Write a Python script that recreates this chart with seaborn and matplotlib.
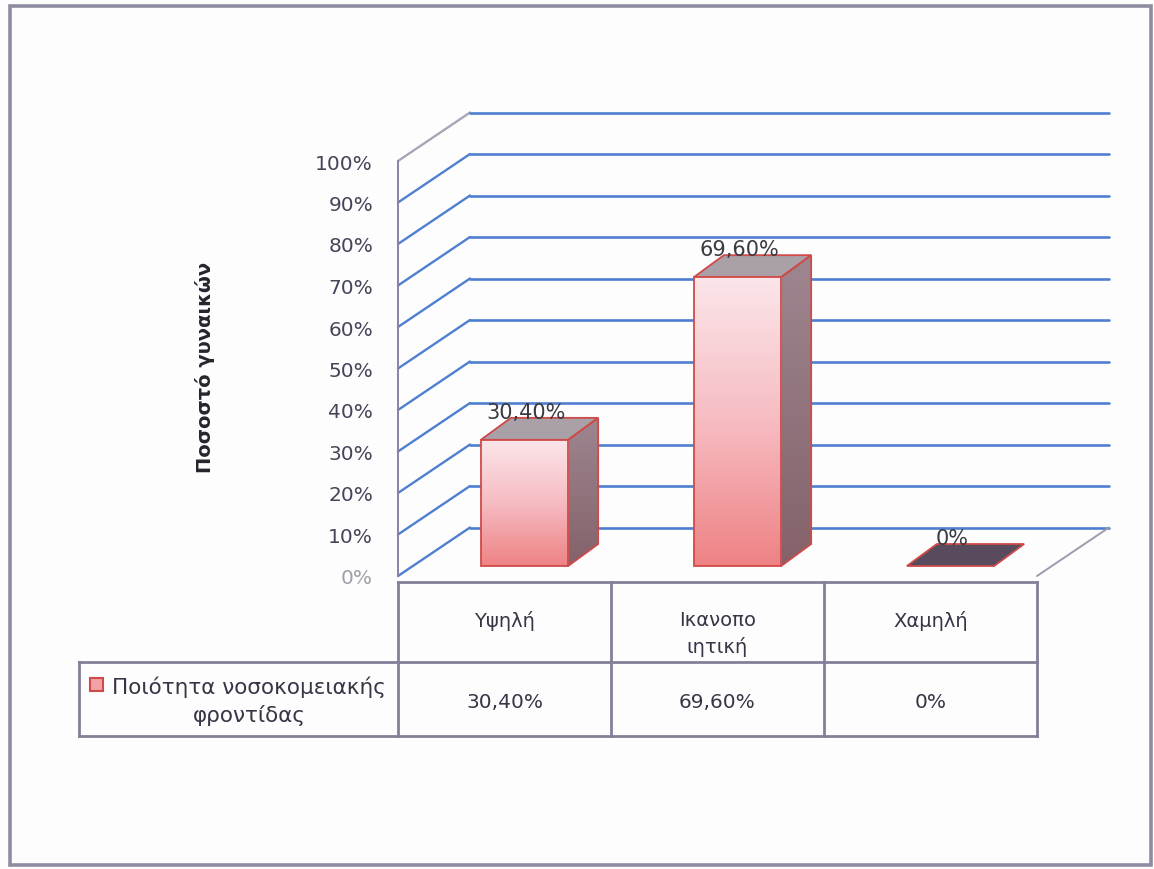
import numpy as np
import matplotlib
matplotlib.use("Agg")
import matplotlib.pyplot as plt
import matplotlib.transforms as mtransforms
from matplotlib.patches import Polygon, Rectangle
from matplotlib.colors import LinearSegmentedColormap
import seaborn as sns

# ---- data -------------------------------------------------------------
categories = ["Υψηλή", "Ικανοπο\nιητική", "Χαμηλή"]
values = [30.4, 69.6, 0.0]
series_name = "Ποιότητα νοσοκομειακής\nφροντίδας"
y_label = "Ποσοστό γυναικών"
y_ticks = list(range(0, 101, 10))


def pct_label(v):
    if v == 0:
        return "0%"
    return f"{v:.2f}".replace(".", ",") + "%"


# ---- figure / axes ------------------------------------------------------
W, H, DPI = 1154, 870, 100
sns.set_theme(style="white")
plt.rcParams["font.family"] = ["DejaVu Sans"]

fig = plt.figure(figsize=(W / DPI, H / DPI), dpi=DPI, facecolor="#fdfdfd")

# front plane of the plot box, in pixels (top-left origin)
L, R, B, T = 398, 1037, 577, 162
ax = fig.add_axes([L / W, (H - B) / H, (R - L) / W, (B - T) / H])
ax.set_facecolor("none")

sns.barplot(x=categories, y=values, width=0.41, color="#f4a0a4",
            errorbar=None, ax=ax)
bars = list(ax.patches)

ax.set_xlim(-0.5, 2.5)
ax.set_ylim(0, 100)
ax.set_autoscale_on(False)

px_cat = (R - L) / 3.0
px_pct = (B - T) / 100.0
WALL_DX, WALL_DY = 72 / px_cat, 48.5 / px_pct
BAR_DX, BAR_DY = 30 / px_cat, 22 / px_pct

bar_shift = mtransforms.ScaledTranslation(20 / DPI, 10 / DPI, fig.dpi_scale_trans)
bar_trans = ax.transData + bar_shift

# ---- walls and gridlines -------------------------------------------------
grid_c = "#4f7fd0"
x0, x1 = -0.5, 2.5
for t in y_ticks:
    diag_c = "#a6a6b6" if t == 100 else grid_c
    ax.plot([x0, x0 + WALL_DX], [t, t + WALL_DY], color=diag_c, lw=1.7,
            clip_on=False, zorder=1)
    ax.plot([x0 + WALL_DX, x1 + WALL_DX], [t + WALL_DY] * 2, color=grid_c,
            lw=1.9, clip_on=False, zorder=1)
ax.plot([x0, x0], [0, 100], color="#8484a8", lw=1.4, clip_on=False, zorder=1)
ax.plot([x1, x1 + WALL_DX], [0, WALL_DY], color="#9c9cae", lw=1.4,
        clip_on=False, zorder=1)

# ---- 3-D bars ---------------------------------------------------------------
edge_c = "#cf4a48"
front_cmap = LinearSegmentedColormap.from_list("front", ["#ee8284", "#f6bcc2", "#fbe6ea"])
side_cmap = LinearSegmentedColormap.from_list("side", ["#84626a", "#9e8690"])
grad = np.linspace(0, 1, 256).reshape(-1, 1)

for bar, v in zip(bars, values):
    bx, bw, h = bar.get_x(), bar.get_width(), bar.get_height()
    xr = bx + bw
    top_c = "#a9a0a8" if h > 0 else "#574b5d"
    top = Polygon([(bx, h), (xr, h), (xr + BAR_DX, h + BAR_DY), (bx + BAR_DX, h + BAR_DY)],
                  closed=True, transform=bar_trans, facecolor=top_c,
                  edgecolor=edge_c, lw=1.3, zorder=3, clip_on=False)
    ax.add_patch(top)
    bar.set_transform(bar_trans)
    if h > 0:
        side = Polygon([(xr, 0), (xr + BAR_DX, BAR_DY), (xr + BAR_DX, h + BAR_DY), (xr, h)],
                       closed=True, transform=bar_trans, facecolor="none",
                       edgecolor=edge_c, lw=1.3, zorder=3.2, clip_on=False)
        ax.add_patch(side)
        im_s = ax.imshow(grad, cmap=side_cmap, origin="lower", aspect="auto",
                         extent=(xr, xr + BAR_DX, 0, h + BAR_DY),
                         transform=bar_trans, zorder=2.8)
        im_s.set_clip_path(side)
        im_f = ax.imshow(grad, cmap=front_cmap, origin="lower", aspect="auto",
                         extent=(bx, xr, 0, h), transform=bar_trans, zorder=3.4)
        im_f.set_clip_path(bar)
        bar.set_facecolor("none")
        bar.set_edgecolor(edge_c)
        bar.set_linewidth(1.3)
        bar.set_zorder(3.6)
    else:
        bar.set_visible(False)

    ax.annotate(pct_label(v), (bx + bw / 2, h), xytext=(22, 38),
                textcoords="offset pixels", ha="center", va="center",
                fontsize=15, color="#3a3a44", zorder=5, annotation_clip=False)

ax.set_xlim(-0.5, 2.5)
ax.set_ylim(0, 100)

# ---- axis ticks and title ------------------------------------------------
ax.set_yticks(y_ticks)
ax.set_yticklabels([f"{t}%" for t in y_ticks])
ax.tick_params(axis="y", length=0, pad=18, labelsize=14.5, labelcolor="#45455a")
ax.tick_params(axis="x", length=0, labelbottom=False)
ax.set_xlabel("")
ax.set_ylabel("")
ax.get_yticklabels()[0].set_color("#a0a0aa")
sns.despine(ax=ax, left=True, bottom=True)

fig.text(205 / W, 1 - 367 / H, y_label, rotation=90, ha="center", va="center",
         fontsize=14, fontweight="bold", color="#25252e")

# ---- data table ------------------------------------------------------------
tbl = mtransforms.blended_transform_factory(ax.transData, fig.transFigure)


def fy(p):
    return 1 - p / H


def px_to_x(p):
    return -0.5 + (p - L) / px_cat


line_c = "#837f98"
row_left = -2.0
y_top, y_mid, y_bot = 583, 663, 737
lkw = dict(color=line_c, lw=2.0, transform=tbl, clip_on=False, zorder=4,
           solid_capstyle="projecting")
ax.plot([x0, x1], [fy(y_top)] * 2, **lkw)
ax.plot([row_left, x1], [fy(y_mid)] * 2, **lkw)
ax.plot([row_left, x1], [fy(y_bot)] * 2, **lkw)
ax.plot([row_left, row_left], [fy(y_mid), fy(y_bot)], **lkw)
for xv in np.arange(len(categories) + 1) - 0.5:
    ax.plot([xv, xv], [fy(y_top), fy(y_bot)], **lkw)

txt_c = "#363646"
for i, (cat, v) in enumerate(zip(categories, values)):
    ax.text(i, fy(611), cat, transform=tbl, ha="center", va="top",
            fontsize=14, color=txt_c, linespacing=1.45)
    ax.text(i, fy(703), pct_label(v), transform=tbl, ha="center", va="center",
            fontsize=14.5, color=txt_c)

ax.add_patch(Rectangle((px_to_x(90), fy(692)), 13 / px_cat, 13 / H,
                       transform=tbl, facecolor="#f2a2a6", edgecolor=edge_c,
                       lw=1.5, clip_on=False, zorder=5))
ax.text(px_to_x(249), fy(701), series_name, transform=tbl, ha="center",
        va="center", fontsize=15.5, color=txt_c, linespacing=1.4)

# ---- outer frame -------------------------------------------------------------
fig.patches.append(Rectangle((10 / W, 4 / H), 1141 / W, 859 / H,
                             transform=fig.transFigure, fill=False,
                             edgecolor="#8c8ca2", lw=2.6))

fig.savefig("out.png", dpi=DPI, facecolor=fig.get_facecolor())
